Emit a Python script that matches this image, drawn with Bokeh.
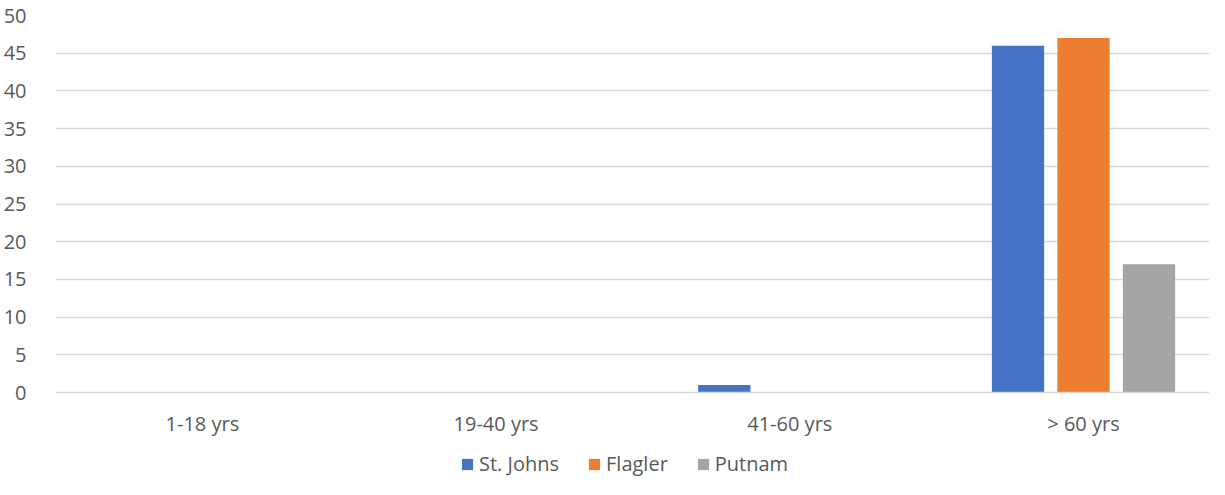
from bokeh.plotting import figure
from bokeh.layouts import column
from bokeh.models import ColumnDataSource, Range1d, FixedTicker, Legend, LegendItem
from bokeh.embed import file_html
from bokeh.resources import INLINE

categories = ["1-18 yrs", "19-40 yrs", "41-60 yrs", "> 60 yrs"]
st_johns = [0, 0, 1, 46]
flagler = [0, 0, 0, 47]
putnam = [0, 0, 0, 17]
series_names = ["St. Johns", "Flagler", "Putnam"]
colors = ["#4472C4", "#ED7D31", "#A5A5A5"]

FONT = "Open Sans"
TXT = "#595959"
GRID = "#D9D9D9"

pos = [i + 0.5 for i in range(len(categories))]

p = figure(width=1209, height=441, output_backend="svg", toolbar_location=None,
           x_range=Range1d(0, 3.929), y_range=Range1d(0, 50),
           min_border_left=52, min_border_right=0, min_border_top=15, min_border_bottom=49)
p.outline_line_color = None
p.background_fill_color = "white"
p.border_fill_color = "white"

offsets = [-0.223, 0.0, 0.223]
for vals, off, col in zip([st_johns, flagler, putnam], offsets, colors):
    src = ColumnDataSource(dict(x=[x + off for x in pos], top=vals))
    p.vbar(x="x", top="top", width=0.178, source=src, fill_color=col, line_color=None)

# grid
p.xgrid.grid_line_color = None
p.ygrid.grid_line_color = GRID
p.ygrid.grid_line_width = 1.3
p.yaxis.ticker = FixedTicker(ticks=list(range(0, 51, 5)))

# axes
p.xaxis.ticker = FixedTicker(ticks=pos)
p.xaxis.major_label_overrides = {x: c for x, c in zip(pos, categories)}
p.xaxis.axis_line_color = GRID
p.xaxis.axis_line_width = 1.3
p.xaxis.major_tick_line_color = None
p.xaxis.minor_tick_line_color = None
p.xaxis.major_label_text_font = FONT
p.xaxis.major_label_text_font_size = "20px"
p.xaxis.major_label_text_color = TXT
p.xaxis.major_label_standoff = 11

p.yaxis.axis_line_color = None
p.yaxis.major_tick_line_color = None
p.yaxis.minor_tick_line_color = None
p.yaxis.major_label_text_font = FONT
p.yaxis.major_label_text_font_size = "20px"
p.yaxis.major_label_text_color = TXT
p.yaxis.major_label_standoff = 23

# legend strip (separate figure below the chart)
lf = figure(width=1209, height=38, output_backend="svg", toolbar_location=None,
            x_axis_type=None, y_axis_type=None, x_range=Range1d(0, 1), y_range=Range1d(0, 1),
            min_border_left=0, min_border_right=0, min_border_top=0, min_border_bottom=0)
lf.outline_line_color = None
lf.background_fill_color = "white"
lf.border_fill_color = "white"
items = []
for name, col in zip(series_names, colors):
    # zero-height proxy bar: invisible in the strip, used only for the legend swatch
    r = lf.vbar(x=0.5, top=0, bottom=0, width=0.01, fill_color=col, line_color=None)
    items.append(LegendItem(label=name, renderers=[r]))

legend = Legend(items=items, orientation="horizontal", location=(405, 2))
legend.label_text_font = FONT
legend.label_text_font_size = "20px"
legend.label_text_color = TXT
legend.glyph_width = 14
legend.glyph_height = 14
legend.label_standoff = 5
legend.spacing = 28
legend.border_line_color = None
legend.background_fill_alpha = 0
legend.padding = 4
legend.margin = 0
lf.add_layout(legend, "center")

layout = column(p, lf, spacing=0)
open("out.html", "w").write(file_html(layout, INLINE))
